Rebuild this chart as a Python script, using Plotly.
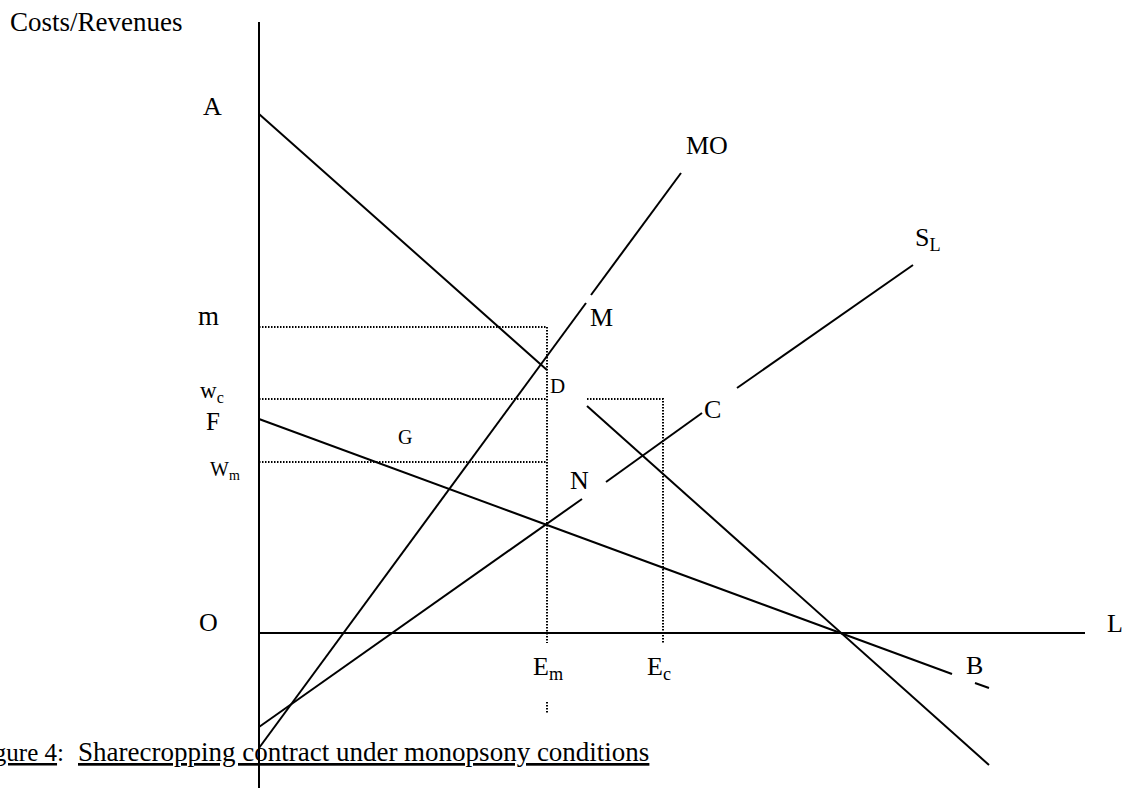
import plotly.graph_objects as go

# Diagram geometry (screen units: x to the right, y downward)
axis_v_x = [259, 259]
axis_v_y = [22, 800]
axis_h_x = [259, 1085]
axis_h_y = [633, 633]

# Demand / VMP line A -> (gap at D) -> lower right
line_A_x = [259, 547, None, 587, 989]
line_A_y = [114, 370, None, 406, 765]

# Line F -> B (with small segment after B label)
line_F_x = [259, 952, None, 975, 989]
line_F_y = [419, 674, None, 683, 688]

# Marginal outlay MO
line_MO_x = [259, 586, None, 591, 681]
line_MO_y = [748, 303, None, 295, 173]

# Labour supply S_L (gaps at N and C)
line_SL_x = [259, 582, None, 606, 702, None, 737, 913]
line_SL_y = [727, 499, None, 482, 413, None, 388, 265]

# Dotted guide lines
dot_m_x = [259, 547, 547]
dot_m_y = [327, 327, 643]
dot_wc_x = [259, 547]
dot_wc_y = [399, 399]
dot_wc2_x = [587, 663, 663]
dot_wc2_y = [399, 399, 643]
dot_wm_x = [259, 547]
dot_wm_y = [462, 462]
dot_em2_x = [547, 547]
dot_em2_y = [702, 713]

labels_text = ["A", "MO", "S<sub>L</sub>", "m", "M", "D", "w<sub>c</sub>", "F", "G",
               "W<sub>m</sub>", "C", "N", "O", "L", "E<sub>m</sub>", "E<sub>c</sub>", "B"]
labels_x = [212, 707, 928, 208, 601, 557, 212, 213, 405, 225, 712, 579, 208, 1115, 548, 659, 974]
labels_y = [106, 145, 239, 316, 317, 386, 392, 421, 437, 470, 409, 480, 622, 623, 668, 668, 665]
labels_size = [26, 26, 26, 27, 26, 21, 23, 25, 20, 20, 26, 26, 26, 26, 26, 26, 26]

title_text = "Costs/Revenues"
caption_prefix = "<u>Figure 4</u>:"
caption_text = "<u>Sharecropping contract under monopsony conditions</u>"

FONT = "Liberation Serif"

fig = go.Figure()

def add_line(xs, ys, width=2, dash="solid"):
    fig.add_trace(go.Scatter(x=xs, y=ys, mode="lines",
                             line=dict(color="black", width=width, dash=dash),
                             hoverinfo="skip", showlegend=False, connectgaps=False))

add_line(axis_v_x, axis_v_y)
add_line(axis_h_x, axis_h_y)
add_line(line_A_x, line_A_y)
add_line(line_F_x, line_F_y)
add_line(line_MO_x, line_MO_y)
add_line(line_SL_x, line_SL_y)
for xs, ys in [(dot_m_x, dot_m_y), (dot_wc_x, dot_wc_y), (dot_wc2_x, dot_wc2_y),
               (dot_wm_x, dot_wm_y), (dot_em2_x, dot_em2_y)]:
    add_line(xs, ys, width=2, dash="1.5px,1.5px")

for t, x, y, s in zip(labels_text, labels_x, labels_y, labels_size):
    fig.add_annotation(x=x, y=y, text=t, showarrow=False, xanchor="center", yanchor="middle",
                       font=dict(family=FONT, size=s, color="black"))

fig.add_annotation(x=8, y=22, text=title_text, showarrow=False, xanchor="left", yanchor="middle",
                   font=dict(family=FONT, size=27, color="black"))
fig.add_annotation(x=66, y=752, text=caption_prefix, showarrow=False, xanchor="right", yanchor="middle",
                   font=dict(family=FONT, size=25, color="black"))
fig.add_annotation(x=76, y=752, text=caption_text, showarrow=False, xanchor="left", yanchor="middle",
                   font=dict(family=FONT, size=27, color="black"))

fig.update_layout(
    width=1124, height=788,
    margin=dict(l=0, r=0, t=0, b=0),
    paper_bgcolor="white", plot_bgcolor="white",
    xaxis=dict(range=[0, 1124], visible=False, fixedrange=True),
    yaxis=dict(range=[788, 0], visible=False, fixedrange=True),
)

# remove the default page margin so the figure fills the window exactly
fig.write_html("out.html",
               config={"displayModeBar": False, "staticPlot": True},
               post_script="document.body.style.margin='0';document.body.style.overflow='hidden';")
